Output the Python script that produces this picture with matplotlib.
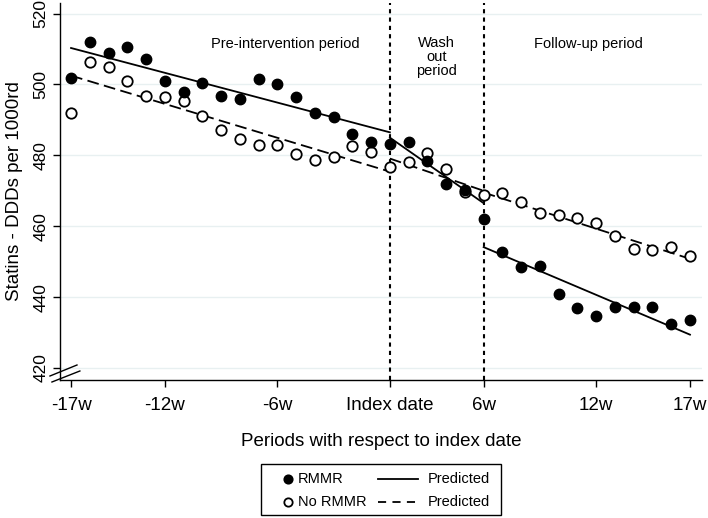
import matplotlib
matplotlib.use("Agg")
import matplotlib.pyplot as plt
from matplotlib.lines import Line2D
from matplotlib.patches import Rectangle

plt.rcParams['font.family'] = ['Liberation Sans', 'DejaVu Sans']

## period number 1..34, index date at 18, end of wash out at 23
periods = list(range(1, 35))

rmmr = [501.9, 512.0, 509.0, 510.6, 507.3, 501.1, 497.9, 500.5, 496.8, 496.0,
        501.5, 500.2, 496.6, 491.9, 490.7, 486.0, 483.8, 483.2, 483.7, 478.4,
        472.0, 470.1, 461.9, 452.7, 448.4, 448.7, 441.0, 436.9, 434.8, 437.2,
        437.1, 437.2, 432.5, 433.6]
no_rmmr = [492.0, 506.3, 504.9, 501.1, 496.8, 496.6, 495.3, 491.2, 487.2, 484.6,
           483.0, 483.0, 480.5, 478.8, 479.4, 482.7, 481.0, 476.6, 478.0, 480.6,
           476.1, 469.7, 468.8, 469.3, 466.7, 463.8, 463.3, 462.3, 460.8, 457.2,
           453.6, 453.3, 454.1, 451.7]

# predicted segments: (start period, end period, start value, end value)
pred_rmmr = [(1, 18, 510.3, 486.5), (18, 23, 485.0, 466.5), (23, 34, 454.1, 429.4)]
pred_no_rmmr = [(1, 18, 502.5, 475.4), (18, 23, 479.1, 470.0), (23, 34, 469.5, 450.8)]

tick_pos = [1, 6, 12, 18, 23, 29, 34]
tick_labels = ["-17w", "-12w", "-6w", "Index date", "6w", "12w", "17w"]
y_ticks = [420, 440, 460, 480, 500, 520]

W, H = 708, 518


def px(x, y):
    # pixel position -> figure fraction
    return x / W, 1 - y / H


def main():
    fig = plt.figure(figsize=(7.08, 5.18), dpi=100)
    ax = fig.add_axes([0.0847, 0.2664, 0.9068, 0.7278])

    for y in y_ticks:
        ax.axhline(y, color="#e8f0f1", linewidth=1, zorder=0)

    ax.axvline(18, color="black", linestyle=(0, (2, 2)), linewidth=1.5, zorder=1)
    ax.axvline(23, color="black", linestyle=(0, (2, 2)), linewidth=1.5, zorder=1)

    for x0, x1, y0, y1 in pred_rmmr:
        ax.plot([x0, x1], [y0, y1], color="black", linewidth=1.3, linestyle="-", zorder=2)
    for x0, x1, y0, y1 in pred_no_rmmr:
        ax.plot([x0, x1], [y0, y1], color="black", linewidth=1.3, linestyle=(0, (6.5, 3)), zorder=2)

    ax.plot(periods, no_rmmr, linestyle="none", marker="o", markersize=7.5,
            markerfacecolor="white", markeredgecolor="black", markeredgewidth=1.3, zorder=3)
    ax.plot(periods, rmmr, linestyle="none", marker="o", markersize=7.5,
            markerfacecolor="black", markeredgecolor="black", zorder=4)

    ax.set_xlim(0.41, 34.64)
    ax.set_ylim(416.6, 523)
    ax.set_xticks(tick_pos)
    ax.set_xticklabels(tick_labels, fontsize=13.5)
    ax.set_yticks(y_ticks)
    ax.set_yticklabels([str(v) for v in y_ticks], fontsize=12.5, rotation=90, va="center")
    ax.tick_params(direction="out", length=5, width=1, color="black")
    ax.tick_params(axis="x", pad=7)
    ax.spines["top"].set_visible(False)
    ax.spines["right"].set_visible(False)
    ax.spines["left"].set_linewidth(1)
    ax.spines["bottom"].set_linewidth(1)

    ax.set_ylabel("Statins - DDDs per 1000rd", fontsize=13.5, labelpad=7)
    ax.set_xlabel("Periods with respect to index date", fontsize=13.5, labelpad=14)

    ax.text(12.4, 511.5, "Pre-intervention period", fontsize=10.5, ha="center", va="center")
    ax.text(20.5, 507.8, "Wash\nout\nperiod", fontsize=10.5, ha="center", va="center",
            linespacing=0.98)
    ax.text(28.6, 511.5, "Follow-up period", fontsize=10.5, ha="center", va="center")

    # axis break marks
    ax.plot([-0.0156, 0.0265], [0.0106, 0.0398], color="black", linewidth=1,
            transform=ax.transAxes, clip_on=False)
    ax.plot([-0.0125, 0.031], [-0.0053, 0.0239], color="black", linewidth=1,
            transform=ax.transAxes, clip_on=False)

    # legend drawn by hand so markers and lines get their own widths
    x0, y0 = px(261, 515)
    x1, y1 = px(501, 464)
    fig.patches.append(Rectangle((x0, y0), x1 - x0, y1 - y0, transform=fig.transFigure,
                                 facecolor="white", edgecolor="black", linewidth=1))
    rows = [
        ("RMMR", "black", "-"),
        ("No RMMR", "white", (0, (4.5, 3.5))),
    ]
    for i, (name, face, ls) in enumerate(rows):
        yy = 479 + 23 * i
        mx, my = px(288, yy)
        fig.lines.append(Line2D([mx], [my], transform=fig.transFigure, linestyle="none",
                                marker="o", markersize=6, markerfacecolor=face,
                                markeredgecolor="black", markeredgewidth=1.3))
        fig.text(*px(298, yy), name, fontsize=10.5, ha="left", va="center")
        lx0, ly = px(378, yy)
        lx1, _ = px(418, yy)
        fig.lines.append(Line2D([lx0, lx1], [ly, ly], transform=fig.transFigure,
                                color="black", linewidth=1.3, linestyle=ls))
        fig.text(*px(428, yy), "Predicted", fontsize=10.5, ha="left", va="center")

    fig.savefig("out.png", dpi=100)


if __name__ == '__main__':
    main()
